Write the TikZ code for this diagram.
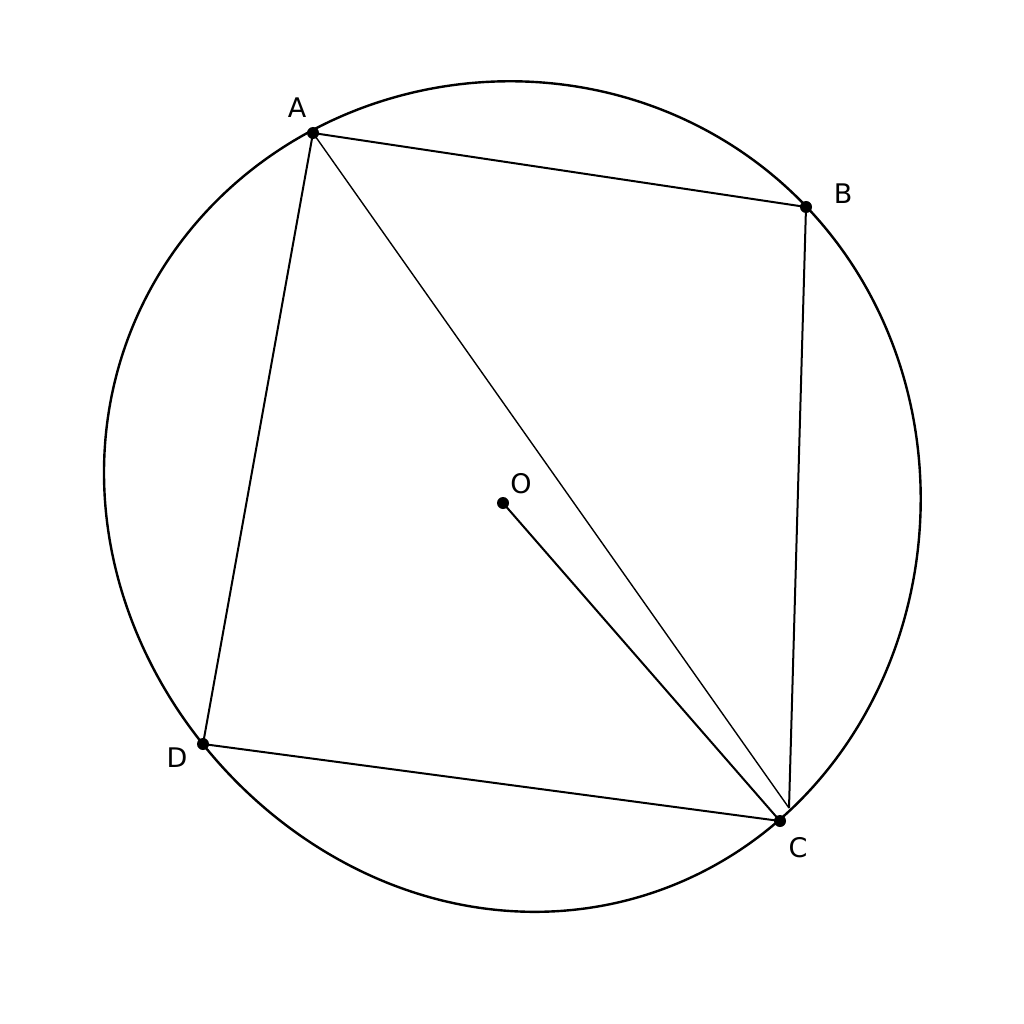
\documentclass[tikz,border=0pt]{standalone}
\usepackage{fontspec}
\setmainfont{DejaVu Sans}
\begin{document}
\begin{tikzpicture}[x=1pt,y=-1pt,
  circ/.style={line width=2.4pt},
  edge/.style={line width=2pt},
  thin edge/.style={line width=1.4pt},
  pt/.style={circle,fill=black,inner sep=0pt,minimum size=12pt},
  lab/.style={font=\fontsize{27}{30}\selectfont},
  declare function={rr(\t)=411.5+1.37*cos(\t)-2.47*sin(\t)-3.49*cos(2*\t)+6.67*sin(2*\t)-2.68*cos(3*\t)-2.74*sin(3*\t);}]
\useasboundingbox (0,0) rectangle (1024,1024);
\fill[white] (0,0) rectangle (1024,1024);
\draw[circ] plot[smooth cycle,domain=0:358,samples=180,variable=\t]
  ({514+rr(\t)*cos(\t)},{496+rr(\t)*sin(\t)});
\node[pt] (A) at (313,133) {};
\node[pt] (B) at (806,207) {};
\node[pt] (C) at (780,821) {};
\node[pt] (D) at (203,744) {};
\node[pt] (O) at (503,503) {};
\coordinate (Cp) at (789,808);
\draw[edge] (A.center) -- (B.center);
\draw[edge] (B.center) -- (Cp);
\draw[edge] (D.center) -- (C.center);
\draw[edge] (A.center) -- (D.center);
\draw[thin edge] (A.center) -- (Cp);
\draw[edge] (O.center) -- (C.center);
\node[lab] (lA) at (297,108) {A};
\node[lab] (lB) at (843,194) {B};
\node[lab] (lC) at (798,848) {C};
\node[lab] (lD) at (177,758) {D};
\node[lab] (lO) at (521,484) {O};
\end{tikzpicture}
\end{document}
